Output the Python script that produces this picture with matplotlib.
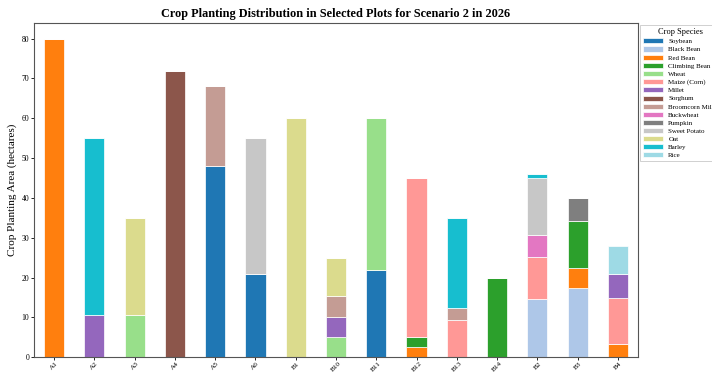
import matplotlib
matplotlib.use("Agg")
import matplotlib.pyplot as plt
import numpy as np

plt.rcParams['font.family'] = ['Liberation Serif', 'DejaVu Serif']

plots = ["A1", "A2", "A3", "A4", "A5", "A6", "B1", "B10", "B11", "B12",
         "B13", "B14", "B2", "B3", "B4"]

crops = ["Soybean", "Black Bean", "Red Bean", "Climbing Bean", "Wheat",
         "Maize (Corn)", "Millet", "Sorghum", "Broomcorn Millet", "Buckwheat",
         "Pumpkin", "Sweet Potato", "Oat", "Barley", "Rice"]

colors = ["#1f77b4", "#aec7e8", "#ff7f0e", "#2ca02c", "#98df8a",
          "#ff9896", "#9467bd", "#8c564b", "#c49c94", "#e377c2",
          "#7f7f7f", "#c7c7c7", "#dbdb8d", "#17becf", "#9edae5"]

# planting area (hectares) per crop, one value per plot in the order of `plots`
soybean      = [0, 0, 0, 0, 48, 21, 0, 0, 22, 0, 0, 0, 0, 0, 0]
black_bean   = [0, 0, 0, 0, 0, 0, 0, 0, 0, 0, 0, 0, 14.7, 17.4, 0]
red_bean     = [80, 0, 0, 0, 0, 0, 0, 0, 0, 2.6, 0, 0, 0, 5.0, 3.4]
climbing     = [0, 0, 0, 0, 0, 0, 0, 0, 0, 2.4, 0, 20, 0, 11.7, 0]
wheat        = [0, 0, 10.5, 0, 0, 0, 0, 5.2, 38, 0, 0, 0, 0, 0, 0]
maize        = [0, 0, 0, 0, 0, 0, 0, 0, 0, 40, 9.4, 0, 10.5, 0, 11.6]
millet       = [0, 10.5, 0, 0, 0, 0, 0, 4.8, 0, 0, 0, 0, 0, 0, 5.8]
sorghum      = [0, 0, 0, 72, 0, 0, 0, 0, 0, 0, 0, 0, 0, 0, 0]
broomcorn    = [0, 0, 0, 0, 20, 0, 0, 5.3, 0, 0, 2.9, 0, 0, 0, 0]
buckwheat    = [0, 0, 0, 0, 0, 0, 0, 0, 0, 0, 0, 0, 5.6, 0, 0]
pumpkin      = [0, 0, 0, 0, 0, 0, 0, 0, 0, 0, 0, 0, 0, 5.9, 0]
sweet_potato = [0, 0, 0, 0, 0, 34, 0, 0, 0, 0, 0, 0, 14.1, 0, 0]
oat          = [0, 0, 24.5, 0, 0, 0, 60, 9.7, 0, 0, 0, 0, 0, 0, 0]
barley       = [0, 44.5, 0, 0, 0, 0, 0, 0, 0, 0, 22.7, 0, 1.1, 0, 0]
rice         = [0, 0, 0, 0, 0, 0, 0, 0, 0, 0, 0, 0, 0, 0, 7.2]

series = [soybean, black_bean, red_bean, climbing, wheat, maize, millet,
          sorghum, broomcorn, buckwheat, pumpkin, sweet_potato, oat,
          barley, rice]

fig = plt.figure(figsize=(7.12, 3.72), dpi=100)
ax = fig.add_axes([34 / 712, 14.7 / 372, 604 / 712, 334.6 / 372])

x = np.arange(len(plots))
bottom = np.zeros(len(plots))
for name, vals, col in zip(crops, series, colors):
    vals = np.array(vals, dtype=float)
    ax.bar(x, vals, width=0.5, bottom=bottom, color=col, label=name,
           edgecolor="white", linewidth=0.5)
    bottom += vals

ax.set_xlim(-0.5, 14.5)
ax.set_ylim(0, 84)
ax.set_xticks(x)
ax.set_xticklabels(plots, rotation=45, fontsize=5.2)
ax.tick_params(axis="y", labelsize=5.5, length=2, width=0.6, pad=1.5)
ax.tick_params(axis="x", length=2, width=0.6, pad=0.5)
for s in ax.spines.values():
    s.set_linewidth(0.8)
    s.set_color("#555555")

ax.set_ylabel("Crop Planting Area (hectares)", fontsize=8, labelpad=3)
ax.set_title("Crop Planting Distribution in Selected Plots for Scenario 2 in 2026",
             fontsize=8.8, fontweight="bold", pad=4)

leg = ax.legend(title="Crop Species", loc="upper left",
                bbox_to_anchor=(1.003, 0.993), borderaxespad=0,
                fontsize=5.0, title_fontsize=6.0, labelspacing=0.31,
                handlelength=2.9, handleheight=0.75, handletextpad=0.75,
                borderpad=0.45, frameon=True,
                fancybox=False, edgecolor="#bbbbbb")
leg.get_frame().set_linewidth(0.6)

fig.savefig("out.png", dpi=100)
